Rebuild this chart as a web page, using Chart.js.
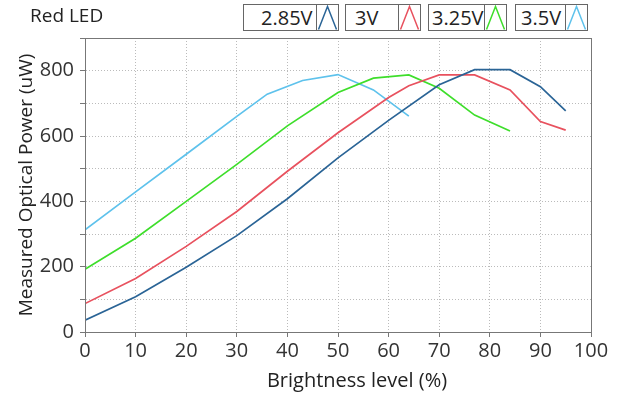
<!DOCTYPE html>
<html>
<head>
<meta charset="utf-8">
<script src="https://cdn.jsdelivr.net/npm/chart.js@4/dist/chart.umd.min.js"></script>
<style>
  html, body { margin: 0; padding: 0; background: #fff; }
  #wrap { position: relative; width: 633px; height: 394px; font-family: "Open Sans", sans-serif; }
  #c { position: absolute; left: 0; top: 0; }
  #title { position: absolute; left: 30px; top: 2px; font-size: 19px; color: #222; }
  .item { position: absolute; top: 4px; height: 27px; box-sizing: border-box; border: 1px solid #666; background: #fff; display: flex; }
  .item .txt { font-size: 20px; color: #222; line-height: 25px; box-sizing: border-box; white-space: nowrap; }
  .item .ico { width: 22px; height: 25px; box-sizing: border-box; border-left: 1px solid #666; }
</style>
</head>
<body>
<div id="wrap">
  <canvas id="c" width="633" height="394"></canvas>
  <div id="title">Red LED</div>
  <div id="legend"></div>
</div>
<script>
// ---- data ----
const seriesNames = ["2.85V", "3V", "3.25V", "3.5V"];
const x285 = [0, 10, 20, 30, 40, 50, 60, 70, 77, 84, 90, 95];
const y285 = [36, 108, 198, 295, 408, 533, 648, 757, 803, 803, 751, 677];
const x300 = [0, 10, 20, 30, 40, 50, 60, 64, 70, 77, 84, 90, 95];
const y300 = [87, 164, 262, 369, 492, 610, 718, 754, 787, 787, 741, 644, 618];
const x325 = [0, 10, 20, 30, 40, 50, 57, 64, 70, 77, 84];
const y325 = [192, 287, 400, 513, 631, 733, 777, 787, 746, 664, 615];
const x350 = [0, 10, 20, 30, 36, 43, 50, 57, 64];
const y350 = [313, 429, 544, 660, 728, 770, 788, 741, 661];
const xTitle = "Brightness level (%)";
const yTitle = "Measured Optical Power (uW)";

// ---- styles ----
const colors = ["#2a6496", "#e8515e", "#3ede2b", "#5ec2ec"];
const legendLayout = [
  { left: 243, textW: 74, pad: 17 },
  { left: 345, textW: 54, pad: 9 },
  { left: 428, textW: 57, pad: 3 },
  { left: 515, textW: 51, pad: 5 }
];

const xs = [x285, x300, x325, x350];
const ys = [y285, y300, y325, y350];

// legend (HTML)
const leg = document.getElementById('legend');
seriesNames.forEach((name, i) => {
  const L = legendLayout[i];
  const d = document.createElement('div');
  d.className = 'item';
  d.style.left = L.left + 'px';
  d.style.width = (L.textW + 22) + 'px';
  d.innerHTML = '<div class="txt" style="width:' + (L.textW - 1) + 'px;padding-left:' + L.pad + 'px">' + name + '</div>' +
    '<div class="ico"><svg width="21" height="25" viewBox="0 0 21 25"><polyline points="1.5,24.5 10.5,1.5 19.5,24.5" fill="none" stroke="' + colors[i] + '" stroke-width="1.5"/></svg></div>';
  leg.appendChild(d);
});

const framePlugin = {
  id: 'frame',
  afterDraw(chart) {
    const { ctx, chartArea: a } = chart;
    ctx.save();
    ctx.strokeStyle = '#777';
    ctx.lineWidth = 1;
    ctx.strokeRect(Math.round(a.left) + 0.5, Math.round(a.top) + 0.5, Math.round(a.right - a.left), Math.round(a.bottom - a.top));
    ctx.fillStyle = '#222';
    ctx.font = '20px "Open Sans"';
    ctx.textAlign = 'center';
    ctx.textBaseline = 'middle';
    ctx.fillText(xTitle, 357, 381);
    ctx.restore();
  }
};

new Chart(document.getElementById('c'), {
  type: 'line',
  data: {
    datasets: seriesNames.map((n, i) => ({
      label: n,
      data: xs[i].map((x, j) => ({ x: x, y: ys[i][j] })),
      borderColor: colors[i],
      backgroundColor: colors[i],
      borderWidth: 1.7,
      pointRadius: 0,
      tension: 0,
      fill: false
    }))
  },
  options: {
    responsive: false,
    animation: false,
    layout: { padding: { top: 38, right: 42, left: 0, bottom: 0 } },
    plugins: { legend: { display: false }, title: { display: false }, tooltip: { enabled: false } },
    scales: {
      x: {
        type: 'linear', min: 0, max: 100,
        afterFit(s) { s.height = 62; },
        ticks: { stepSize: 10, color: '#333', font: { family: 'Open Sans', size: 20 }, padding: 2, maxRotation: 0 },
        grid: { color: '#bbb', tickColor: '#777', tickLength: 5, lineWidth: 1 },
        border: { display: true, color: '#777', dash: [1, 2] },
        title: { display: false }
      },
      y: {
        min: 0, max: 900,
        afterFit(s) { s.width = 85; },
        ticks: { stepSize: 100, color: '#333', font: { family: 'Open Sans', size: 20 }, padding: 6,
          callback: v => (v % 200 === 0 && v <= 800) ? String(v) : '' },
        grid: { color: '#bbb', tickColor: '#777', tickLength: 5, lineWidth: 1 },
        border: { display: true, color: '#777', dash: [1, 2] },
        title: { display: true, text: yTitle, color: '#222', font: { family: 'Open Sans', size: 19 }, padding: { top: 15, bottom: 0 } }
      }
    }
  },
  plugins: [framePlugin]
});
</script>
</body>
</html>
